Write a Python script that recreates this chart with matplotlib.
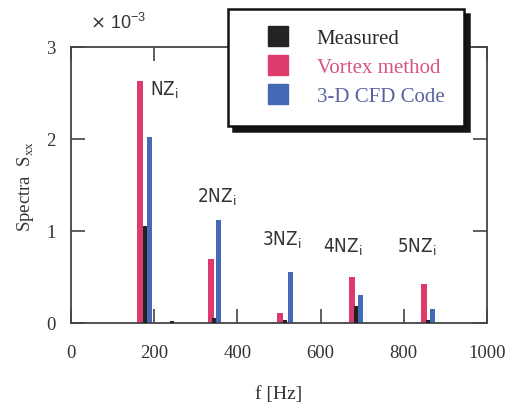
import matplotlib
matplotlib.use("Agg")
import matplotlib.pyplot as plt
from matplotlib import font_manager
from matplotlib.lines import Line2D

# Spectral peaks at the blade passing frequency NZ_i and its harmonics
# (values in units of 1e-3)
meas_f = [178, 243, 344, 514, 685, 858]
meas_s = [1.05, 0.02, 0.05, 0.03, 0.19, 0.03]

vortex_f = [166, 337, 502, 676, 849]
vortex_s = [2.63, 0.70, 0.11, 0.50, 0.42]

cfd_f = [188, 354, 527, 695, 868]
cfd_s = [2.02, 1.12, 0.55, 0.30, 0.15]

series_names = ["Measured", "Vortex method", "3-D CFD Code"]
series_colors = ["#232323", "#dc3b6c", "#4569b5"]
text_colors = ["#2a2a2a", "#d9547e", "#5a629e"]

harmonic_labels = ["NZ", "2NZ", "3NZ", "4NZ", "5NZ"]
label_pos = [(190, 2.54), (303, 1.38), (459, 0.91), (606, 0.83), (784, 0.83)]

xticks = [0, 200, 400, 600, 800, 1000]
yticks = [0, 1, 2, 3]

serif = "Liberation Serif"
plt.rcParams.update({
    "font.family": serif,
    "xtick.direction": "in", "ytick.direction": "in",
    "xtick.top": True, "ytick.right": True,
    "xtick.major.size": 10, "ytick.major.size": 10,
    "xtick.major.width": 1.2, "ytick.major.width": 1.2,
    "xtick.major.pad": 15, "ytick.major.pad": 11,
    "xtick.color": "#444444", "ytick.color": "#444444",
    "xtick.labelcolor": "#333333", "ytick.labelcolor": "#333333",
    "xtick.labelsize": 13.5, "ytick.labelsize": 13.5,
    "axes.linewidth": 1.3, "axes.edgecolor": "#444444",
})

# a condensed sans for the harmonic labels, if one is around
fonts = font_manager.fontManager.ttflist
narrow = None
for f in fonts:
    if f.name == "Liberation Sans Narrow" and f.weight in (400, "normal") and f.style == "normal":
        narrow = font_manager.FontProperties(fname=f.fname, size=13.5)
        break
if narrow is None:
    for f in fonts:
        if f.name == "DejaVu Sans" and f.stretch == "condensed" and f.style == "normal" \
                and f.weight in (400, "normal"):
            narrow = font_manager.FontProperties(fname=f.fname, size=13.5)
            break
if narrow is None:
    narrow = font_manager.FontProperties(family="Liberation Sans", size=13.5)

fig = plt.figure(figsize=(5.09, 4.06), dpi=100)
ax = fig.add_axes([71 / 509, 1 - 324 / 406, 416 / 509, 276 / 406])
ax.patch.set_visible(False)

ax.bar(vortex_f, vortex_s, width=14, color=series_colors[1], zorder=2)
ax.bar(cfd_f, cfd_s, width=12, color=series_colors[2], zorder=2)
ax.bar(meas_f, meas_s, width=9, color=series_colors[0], zorder=3)

for lab, (x, y) in zip(harmonic_labels, label_pos):
    ax.text(x, y, lab + r"$_\mathregular{i}$", fontproperties=narrow,
            color="#333333", ha="left", va="center")

ax.set_xlim(0, 1000)
ax.set_ylim(0, 3)
ax.set_xticks(xticks)
ax.set_yticks(yticks)

ax.set_xlabel("f [Hz]", fontsize=14, color="#333333")
ax.xaxis.set_label_coords(0.5, -0.225)
ax.set_ylabel("Spectra  S$_\\mathregular{xx}$", fontsize=13.5, color="#333333")
ax.yaxis.set_label_coords(-0.085, 0.5)

ax.text(0.046, 1.09, r"$\times$ 10$^\mathregular{-3}$", transform=ax.transAxes,
        family="Liberation Sans", fontsize=13, color="#333333", ha="left", va="center")

# legend box with a solid black drop shadow
handles = [Line2D([], [], linestyle="none", marker="s", markersize=14.5,
                  markerfacecolor=c, markeredgecolor=c) for c in series_colors]
leg = fig.legend(handles, series_names, loc="upper left",
                 bbox_to_anchor=(228 / 509, 1 - 10 / 406), borderaxespad=0,
                 prop={"family": serif, "size": 15}, labelcolor=text_colors,
                 handlelength=2.9, handletextpad=0.4, labelspacing=0.45,
                 borderpad=0.95, fancybox=False, framealpha=1,
                 shadow={"ox": 3.6, "oy": -3.6, "color": "#151515", "alpha": 1})
leg.get_frame().set_edgecolor("#111111")
leg.get_frame().set_linewidth(1.8)

fig.savefig("out.png", dpi=100)
